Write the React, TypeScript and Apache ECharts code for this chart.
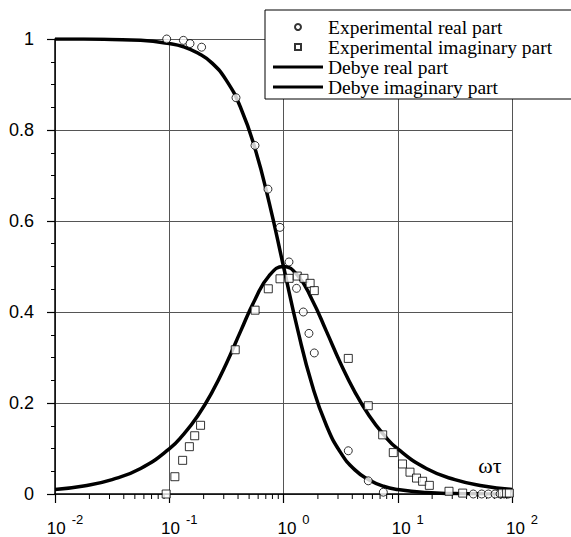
import React, { useEffect, useRef } from "react";
import * as echarts from "echarts";

// Experimental real part (circles)
const expRealX = [0.095, 0.133, 0.152, 0.192, 0.384, 0.563, 0.731, 0.931, 1.117, 1.3, 1.49, 1.67, 1.86, 3.69, 5.52, 7.48, 45.8, 54.3, 62.1, 71.1, 78.7, 85.3, 93];
const expRealY = [1.0, 0.997, 0.99, 0.982, 0.871, 0.766, 0.67, 0.586, 0.51, 0.452, 0.4, 0.353, 0.31, 0.095, 0.029, 0.004, 0, 0, 0, 0, 0, 0, 0];

// Experimental imaginary part (squares)
const expImagX = [0.094, 0.112, 0.131, 0.15, 0.167, 0.188, 0.378, 0.564, 0.736, 0.932, 1.12, 1.32, 1.51, 1.71, 1.86, 3.69, 5.52, 7.38, 9.14, 11.0, 12.8, 14.6, 16.5, 18.9, 28.1, 37.0, 82.2, 89.7, 94.8];
const expImagY = [0, 0.038, 0.074, 0.104, 0.128, 0.151, 0.317, 0.404, 0.451, 0.473, 0.474, 0.479, 0.474, 0.463, 0.447, 0.298, 0.194, 0.13, 0.091, 0.066, 0.048, 0.035, 0.028, 0.019, 0.006, 0.002, 0.002, 0.002, 0.002];

// Debye curves
const debyeX = [0.01, 0.0178, 0.0316, 0.0562, 0.1, 0.1334, 0.1778, 0.2371, 0.3162, 0.4217, 0.5623, 0.7499, 1, 1.3335, 1.7783, 2.3714, 3.1623, 4.217, 5.6234, 7.4989, 10, 17.78, 31.62, 56.23, 100];
const debyeReal = [1.0, 1.0, 0.999, 0.997, 0.99, 0.983, 0.969, 0.947, 0.909, 0.849, 0.76, 0.64, 0.5, 0.36, 0.24, 0.151, 0.091, 0.053, 0.031, 0.017, 0.0099, 0.0032, 0.001, 0.0003, 0.0001];
const debyeImag = [0.01, 0.0178, 0.0316, 0.0561, 0.099, 0.131, 0.172, 0.224, 0.287, 0.358, 0.427, 0.48, 0.5, 0.48, 0.427, 0.358, 0.287, 0.224, 0.172, 0.131, 0.099, 0.0561, 0.0316, 0.0178, 0.01];

// Minor log ticks on the x axis
const minorTickValues = [
  0.02, 0.03, 0.04, 0.05, 0.06, 0.07, 0.08, 0.09,
  0.2, 0.3, 0.4, 0.5, 0.6, 0.7, 0.8, 0.9,
  2, 3, 4, 5, 6, 7, 8, 9,
  20, 30, 40, 50, 60, 70, 80, 90,
];

const legendNames = [
  "Experimental real part",
  "Experimental imaginary part",
  "Debye real part",
  "Debye imaginary part",
];

const zip = (a: number[], b: number[]) => a.map((v, i) => [v, b[i]]);

export default function App() {
  const ref = useRef<HTMLDivElement>(null);
  useEffect(() => {
    if (!ref.current) return;
    const chart = echarts.init(ref.current, null, { renderer: "svg" });
    const gridColor = "#555";
    const lineIcon = "path://M0,0h50v3h-50z";
    const option: any = {
      animation: false,
      backgroundColor: "#fff",
      grid: { left: 55, right: 59, top: 39, bottom: 41, containLabel: false },
      xAxis: {
        type: "log",
        logBase: 10,
        min: 0.01,
        max: 100,
        axisLine: { show: true, lineStyle: { color: "#000", width: 1.5 } },
        axisTick: { show: true, length: 9, inside: false, lineStyle: { color: "#000", width: 1.2 } },
        splitLine: { show: true, lineStyle: { color: gridColor, width: 1 } },
        axisLabel: {
          margin: 19,
          padding: [0, 0, 0, 20],
          formatter: (v: number) => {
            const e = Math.round(Math.log10(v));
            return `{a|10}{b|${e}}`;
          },
          rich: {
            a: { fontFamily: "Liberation Sans", fontSize: 17, color: "#000", lineHeight: 22, verticalAlign: "bottom" },
            b: { fontFamily: "Liberation Sans", fontSize: 13, color: "#000", padding: [0, 0, 11, 6], verticalAlign: "bottom" },
          },
        },
      },
      yAxis: {
        type: "value",
        min: 0,
        max: 1,
        interval: 0.2,
        axisLine: { show: true, lineStyle: { color: "#000", width: 1.5 } },
        axisTick: { show: true, length: 8, lineStyle: { color: "#000", width: 1.2 } },
        minorTick: { show: true, splitNumber: 4, length: 4, lineStyle: { color: "#000", width: 1 } },
        splitLine: { show: true, lineStyle: { color: gridColor, width: 1 } },
        axisLabel: {
          margin: 21,
          fontFamily: "Liberation Sans",
          fontSize: 18,
          color: "#000",
        },
      },
      legend: {
        data: [
          { name: legendNames[0], icon: "circle" },
          { name: legendNames[1], icon: "path://M0,0h10v10h-10z" },
          { name: legendNames[2], icon: lineIcon, itemStyle: { color: "#000", borderWidth: 0 } },
          { name: legendNames[3], icon: lineIcon, itemStyle: { color: "#000", borderWidth: 0 } },
        ],
        orient: "vertical",
        left: 265,
        top: 10,
        padding: [7, 40, 2, 8],
        itemGap: 0,
        itemWidth: 50,
        itemHeight: 6,
        symbolKeepAspect: true,
        backgroundColor: "#fff",
        borderColor: "#000",
        borderWidth: 1,
        selectedMode: false,
        textStyle: { fontFamily: "Liberation Serif", fontSize: 19.5, color: "#000", lineHeight: 19 },
      },
      graphic: [
        {
          type: "rect",
          z: 0,
          shape: { x: 268, y: 13, width: 340, height: 85 },
          style: { fill: "#000" },
        },
        {
          type: "text",
          z: 10,
          x: 490,
          y: 465,
          style: {
            text: "ωτ",
            font: "22px 'Liberation Serif'",
            fill: "#000",
            textAlign: "center",
            textVerticalAlign: "middle",
          },
        },
      ],
      series: [
        {
          name: legendNames[0],
          type: "scatter",
          symbol: "circle",
          symbolSize: 8,
          itemStyle: { color: "#fff", borderColor: "#000", borderWidth: 1 },
          data: zip(expRealX, expRealY),
          z: 3,
        },
        {
          name: legendNames[1],
          type: "scatter",
          symbol: "rect",
          symbolSize: 8,
          itemStyle: { color: "#fff", borderColor: "#000", borderWidth: 1 },
          data: zip(expImagX, expImagY),
          z: 3,
        },
        {
          name: legendNames[2],
          type: "line",
          smooth: true,
          showSymbol: false,
          symbol: "none",
          lineStyle: { color: "#000", width: 3.5 },
          itemStyle: { color: "#000" },
          data: zip(debyeX, debyeReal),
          z: 2,
        },
        {
          name: legendNames[3],
          type: "line",
          smooth: true,
          showSymbol: false,
          symbol: "none",
          lineStyle: { color: "#000", width: 3.5 },
          itemStyle: { color: "#000" },
          data: zip(debyeX, debyeImag),
          z: 2,
        },
        {
          type: "custom",
          silent: true,
          clip: false,
          encode: { x: 0, y: 1 },
          data: minorTickValues.map((v) => [v, 0]),
          renderItem: (_params: any, api: any) => {
            const p = api.coord([api.value(0), 0]);
            return {
              type: "line",
              shape: { x1: p[0], y1: p[1], x2: p[0], y2: p[1] + 5 },
              style: { stroke: "#000", lineWidth: 1 },
            };
          },
        },
      ],
    };
    chart.setOption(option);
    return () => chart.dispose();
  }, []);
  return (
    <div
      ref={ref}
      style={{ position: "absolute", left: 0, top: 0, width: 571, height: 537 }}
    />
  );
}
